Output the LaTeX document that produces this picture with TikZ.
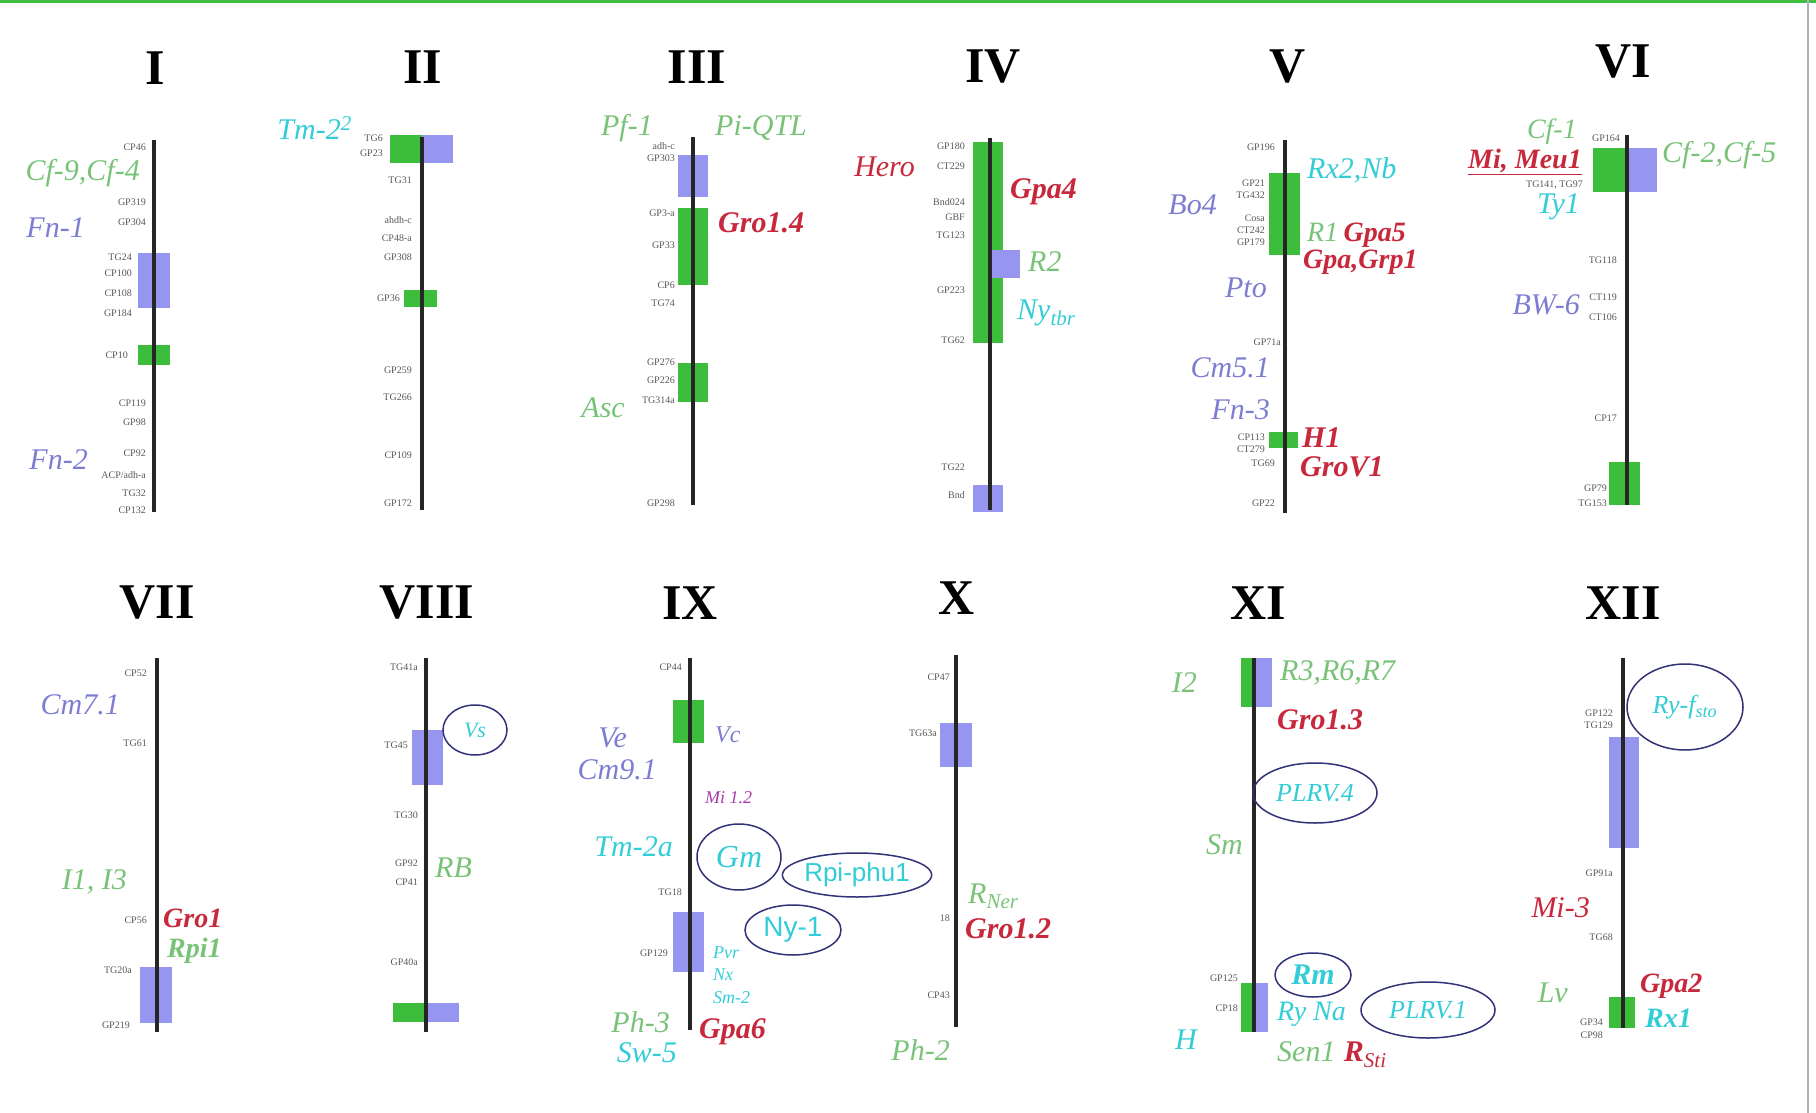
\documentclass[tikz,border=0pt]{standalone}
\usepackage{fontspec}
\setmainfont{Liberation Serif}
\newfontfamily\sansf{Liberation Sans}
\usetikzlibrary{shapes.geometric}
\definecolor{lg}{RGB}{120,195,120}
\definecolor{lb}{RGB}{125,125,210}
\definecolor{cy}{RGB}{50,205,215}
\definecolor{rd}{RGB}{200,40,60}
\definecolor{mg}{RGB}{170,60,170}
\definecolor{gbox}{RGB}{60,190,60}
\definecolor{bbox}{RGB}{150,150,240}
\definecolor{ell}{RGB}{50,50,120}
\begin{document}
\begin{tikzpicture}[x=1pt,y=-1pt,
 ttl/.style={font=\fontsize{50}{50}\selectfont\bfseries, inner sep=0},
 mk/.style={font=\fontsize{10}{10}\selectfont, text=black!65, anchor=east, inner sep=0},
 lab/.style={font=\fontsize{30}{30}\selectfont\itshape, inner sep=0},
 gG/.style={lab, text=lg},
 gB/.style={lab, text=lb},
 gC/.style={lab, text=cy},
 gR/.style={font=\fontsize{30}{30}\selectfont\bfseries\itshape, inner sep=0, text=rd},
 sm/.style={font=\fontsize{18}{18}\selectfont\itshape, inner sep=0},
 gbx/.style={fill=gbox, draw=none},
 bbx/.style={fill=bbox, draw=none},
 chr/.style={line width=4pt, draw=black!85},
 ov/.style={draw=ell, line width=1.5pt, ellipse, inner sep=0, text=cy}
]
\useasboundingbox (0,0) rectangle (1816,1113);
\fill[white] (0,0) rectangle (1816,1113);
\draw[green!50!gray, line width=3pt] (0,1.5) -- (1816,1.5);
\draw[gray!60, line width=2pt] (1808,0) -- (1808,1113);

% ---------- titles
\node[ttl] (tI) at (155,68) {I};
\node[ttl] (tII) at (423,67) {II};
\node[ttl] (tIII) at (697,67) {III};
\node[ttl] (tIV) at (993,67) {IV};
\node[ttl] (tV) at (1288,67) {V};
\node[ttl] (tVI) at (1623,62) {VI};
\node[ttl] (tVII) at (157,603) {VII};
\node[ttl] (tVIII) at (427,603) {VIII};
\node[ttl] (tIX) at (690,603) {IX};
\node[ttl] (tX) at (957,598) {X};
\node[ttl] (tXI) at (1258,603) {XI};
\node[ttl] (tXII) at (1623,603) {XII};

% ---------- chromosome I
\fill[bbx] (138,253) rectangle (170,308);
\fill[gbx] (138,345) rectangle (170,365);
\draw[chr] (154,140) -- (154,512);
\node[mk] (m1a) at (146,147) {CP46};
\node[mk] (m1b) at (146,202) {GP319};
\node[mk] (m1c) at (146,222) {GP304};
\node[mk] (m1d) at (132,257) {TG24};
\node[mk] (m1e) at (132,273) {CP100};
\node[mk] (m1f) at (132,293) {CP108};
\node[mk] (m1g) at (132,313) {GP184};
\node[mk] (m1h) at (128,355) {CP10};
\node[mk] (m1i) at (146,403) {CP119};
\node[mk] (m1j) at (146,422) {GP98};
\node[mk] (m1k) at (146,453) {CP92};
\node[mk] (m1l) at (146,475) {ACP/adh-a};
\node[mk] (m1m) at (146,493) {TG32};
\node[mk] (m1n) at (146,510) {CP132};
\node[gG, anchor=east] (l1a) at (140,173) {Cf-9,Cf-4};
\node[gB, anchor=east] (l1b) at (85,228) {Fn-1};
\node[gB, anchor=east] (l1c) at (88,460) {Fn-2};

% ---------- chromosome II
\fill[gbx] (390,135) rectangle (422,163);
\fill[bbx] (422,135) rectangle (453,163);
\fill[gbx] (404,290) rectangle (437,307);
\draw[chr] (422,137) -- (422,510);
\node[mk] (m2a) at (383,138) {TG6};
\node[mk] (m2b) at (383,153) {GP23};
\node[mk] (m2c) at (412,180) {TG31};
\node[mk] (m2d) at (412,220) {ahdh-c};
\node[mk] (m2e) at (412,238) {CP48-a};
\node[mk] (m2f) at (412,257) {GP308};
\node[mk] (m2g) at (400,298) {GP36};
\node[mk] (m2h) at (412,370) {GP259};
\node[mk] (m2i) at (412,397) {TG266};
\node[mk] (m2j) at (412,455) {CP109};
\node[mk] (m2k) at (412,503) {GP172};
\node[gC, anchor=east] (l2a) at (352,128) {Tm-2\textsuperscript{2}};

% ---------- chromosome III
\fill[bbx] (678,155) rectangle (708,197);
\fill[gbx] (678,208) rectangle (708,285);
\fill[gbx] (678,363) rectangle (708,402);
\draw[chr] (693,137) -- (693,505);
\node[mk] (m3a) at (675,146) {adh-c};
\node[mk] (m3b) at (675,158) {GP303};
\node[mk] (m3c) at (675,213) {GP3-a};
\node[mk] (m3d) at (675,245) {GP33};
\node[mk] (m3e) at (675,285) {CP6};
\node[mk] (m3f) at (675,303) {TG74};
\node[mk] (m3g) at (675,362) {GP276};
\node[mk] (m3h) at (675,380) {GP226};
\node[mk] (m3i) at (675,400) {TG314a};
\node[mk] (m3j) at (675,503) {GP298};
\node[gG, anchor=east] (l3a) at (653,128) {Pf-1};
\node[gG, anchor=west] (l3b) at (715,128) {Pi-QTL};
\node[gR, anchor=west] (l3c) at (718,223) {Gro1.4};
\node[gG, anchor=east] (l3d) at (625,408) {Asc};

% ---------- chromosome IV
\fill[gbx] (973,142) rectangle (1003,343);
\fill[bbx] (990,250) rectangle (1020,278);
\fill[bbx] (973,485) rectangle (1003,512);
\draw[chr] (990,138) -- (990,510);
\node[mk] (m4a) at (965,146) {GP180};
\node[mk] (m4b) at (965,166) {CT229};
\node[mk] (m4c) at (965,202) {Bnd024};
\node[mk] (m4d) at (965,217) {GBF};
\node[mk] (m4e) at (965,235) {TG123};
\node[mk] (m4f) at (965,290) {GP223};
\node[mk] (m4g) at (965,340) {TG62};
\node[mk] (m4h) at (965,467) {TG22};
\node[mk] (m4i) at (965,495) {Bnd};
\node[gR, anchor=east, font=\fontsize{30}{30}\selectfont\itshape] (l4a) at (915,167) {Hero};
\node[gR, anchor=west] (l4b) at (1010,192) {Gpa4};
\node[gG, anchor=west] (l4c) at (1028,262) {R2};
\node[gC, anchor=west] (l4d) at (1017,313) {Ny\textsubscript{tbr}};

% ---------- chromosome V
\fill[gbx] (1269,173) rectangle (1300,255);
\fill[gbx] (1269,432) rectangle (1298,448);
\draw[chr] (1285,140) -- (1285,513);
\node[mk] (m5a) at (1275,147) {GP196};
\node[mk] (m5b) at (1265,183) {GP21};
\node[mk] (m5c) at (1265,195) {TG432};
\node[mk] (m5d) at (1265,218) {Cosa};
\node[mk] (m5e) at (1265,230) {CT242};
\node[mk] (m5f) at (1265,242) {GP179};
\node[mk] (m5g) at (1281,342) {GP71a};
\node[mk] (m5h) at (1265,437) {CP113};
\node[mk] (m5i) at (1265,449) {CT279};
\node[mk] (m5j) at (1275,463) {TG69};
\node[mk] (m5k) at (1275,503) {GP22};
\node[gC, anchor=west] (l5a) at (1307,170) {Rx2,Nb};
\node[gG, anchor=west, font=\fontsize{28}{28}\selectfont\itshape] (l5b) at (1307,232) {R1};
\node[gR, anchor=base west, font=\fontsize{28}{28}\selectfont\bfseries\itshape] (l5c) at ([xshift=5pt]l5b.base east) {Gpa5};
\node[gR, anchor=west, font=\fontsize{28}{28}\selectfont\bfseries\itshape] (l5d) at (1303,262) {Gpa,Grp1};
\node[gB, anchor=east] (l5e) at (1217,205) {Bo4};
\node[gB, anchor=east] (l5f) at (1267,288) {Pto};
\node[gB, anchor=east] (l5g) at (1270,368) {Cm5.1};
\node[gB, anchor=east] (l5h) at (1270,410) {Fn-3};
\node[gR, anchor=west] (l5i) at (1302,438) {H1};
\node[gR, anchor=west] (l5j) at (1300,467) {GroV1};

% ---------- chromosome VI
\fill[gbx] (1593,148) rectangle (1627,192);
\fill[bbx] (1627,148) rectangle (1657,192);
\fill[gbx] (1609,462) rectangle (1640,505);
\draw[chr] (1627,135) -- (1627,505);
\node[mk] (m6a) at (1620,138) {GP164};
\node[mk] (m6b) at (1583,185) {TG141, TG97};
\node[mk] (m6c) at (1617,260) {TG118};
\node[mk] (m6d) at (1617,297) {CT119};
\node[mk] (m6e) at (1617,317) {CT106};
\node[mk] (m6f) at (1617,418) {CP17};
\node[mk] (m6g) at (1607,488) {GP79};
\node[mk] (m6h) at (1607,503) {TG153};
\node[gG, anchor=east, font=\fontsize{28}{28}\selectfont\itshape] (l6a) at (1577,132) {Cf-1};
\node[gR, anchor=east, font=\fontsize{28}{28}\selectfont\bfseries\itshape] (l6b) at (1582,162) {\underline{Mi, Meu1}};
\node[gC, anchor=east] (l6c) at (1580,207) {Ty1};
\node[gG, anchor=west] (l6d) at (1662,155) {Cf-2,Cf-5};
\node[gB, anchor=east] (l6e) at (1580,305) {BW-6};

% ---------- chromosome VII
\fill[bbx] (140,967) rectangle (172,1023);
\draw[chr] (157,658) -- (157,1032);
\node[mk] (m7a) at (147,673) {CP52};
\node[mk] (m7b) at (147,743) {TG61};
\node[mk] (m7c) at (147,920) {CP56};
\node[mk] (m7d) at (132,970) {TG20a};
\node[mk] (m7e) at (130,1025) {GP219};
\node[gB, anchor=east] (l7a) at (120,705) {Cm7.1};
\node[gG, anchor=east] (l7b) at (127,882) {I1, I3};
\node[gR, anchor=west, font=\fontsize{28}{28}\selectfont\bfseries\itshape] (l7c) at (163,918) {Gro1};
\node[gR, anchor=west, text=lg, font=\fontsize{28}{28}\selectfont\bfseries\itshape] (l7d) at (167,951) {Rpi1};

% ---------- chromosome VIII
\fill[bbx] (412,730) rectangle (443,785);
\fill[gbx] (393,1003) rectangle (426,1022);
\fill[bbx] (426,1003) rectangle (459,1022);
\draw[chr] (426,658) -- (426,1032);
\node[mk] (m8a) at (418,667) {TG41a};
\node[mk] (m8b) at (408,745) {TG45};
\node[mk] (m8c) at (418,815) {TG30};
\node[mk] (m8d) at (418,863) {GP92};
\node[mk] (m8e) at (418,882) {CP41};
\node[mk] (m8f) at (418,962) {GP40a};
\node[ov, minimum width=64pt, minimum height=50pt, font=\fontsize{22}{22}\selectfont\itshape] (e8) at (475,730) {Vs};
\node[gG, anchor=west] (l8a) at (435,868) {RB};

% ---------- chromosome IX
\fill[gbx] (673,700) rectangle (704,743);
\fill[bbx] (673,912) rectangle (704,972);
\draw[chr] (690,658) -- (690,1030);
\node[mk] (m9a) at (682,667) {CP44};
\node[mk] (m9b) at (682,892) {TG18};
\node[mk] (m9c) at (668,953) {GP129};
\node[gB, anchor=west, font=\fontsize{24}{24}\selectfont\itshape] (l9a) at (715,735) {Vc};
\node[gB, anchor=east] (l9b) at (627,738) {Ve};
\node[gB, anchor=east] (l9c) at (657,770) {Cm9.1};
\node[sm, anchor=west, text=mg] (l9d) at (705,798) {Mi 1.2};
\node[gC, anchor=east] (l9e) at (673,847) {Tm-2a};
\node[ov, minimum width=84pt, minimum height=66pt, font=\fontsize{32}{32}\selectfont\itshape] (e9a) at (739,857) {Gm};
\node[ov, minimum width=144pt, minimum height=44pt, font=\fontsize{26}{26}\selectfont\sansf] (e9b) at (857,875) {Rpi-phu1};
\node[ov, minimum width=96pt, minimum height=50pt, font=\fontsize{28}{28}\selectfont\sansf] (e9c) at (793,930) {Ny-1};
\node[sm, anchor=west, text=cy] (l9f) at (713,953) {Pvr};
\node[sm, anchor=west, text=cy] (l9g) at (713,975) {Nx};
\node[sm, anchor=west, text=cy] (l9h) at (713,998) {Sm-2};
\node[gG, anchor=east] (l9i) at (670,1022) {Ph-3};
\node[gC, anchor=east] (l9j) at (677,1053) {Sw-5};
\node[gR, anchor=west] (l9k) at (699,1032) {Gpa6};

% ---------- chromosome X
\fill[bbx] (940,723) rectangle (972,767);
\draw[chr] (956,655) -- (956,1027);
\node[mk] (m10a) at (950,677) {CP47};
\node[mk] (m10b) at (937,733) {TG63a};
\node[mk] (m10c) at (950,918) {18};
\node[mk] (m10d) at (950,995) {CP43};
\node[gG, anchor=west] (l10a) at (968,896) {R\textsubscript{Ner}};
\node[gR, anchor=west] (l10b) at (965,929) {Gro1.2};
\node[gG, anchor=east] (l10c) at (950,1050) {Ph-2};

% ---------- chromosome XI
\fill[gbx] (1241,658) rectangle (1255,707);
\fill[bbx] (1255,658) rectangle (1272,707);
\fill[gbx] (1241,983) rectangle (1256,1032);
\fill[bbx] (1256,983) rectangle (1268,1032);
\draw[chr] (1254,658) -- (1254,1032);
\node[mk] (m11a) at (1238,978) {GP125};
\node[mk] (m11b) at (1238,1008) {CP18};
\node[gG, anchor=west] (l11a) at (1280,673) {R3,R6,R7};
\node[gG, anchor=east] (l11b) at (1197,683) {I2};
\node[gR, anchor=west] (l11c) at (1277,720) {Gro1.3};
\node[ov, minimum width=124pt, minimum height=60pt, font=\fontsize{26}{26}\selectfont\itshape] (e11a) at (1315,793) {PLRV.4};
\node[gG, anchor=east] (l11d) at (1243,845) {Sm};
\node[ov, minimum width=76pt, minimum height=44pt, font=\fontsize{30}{30}\selectfont\itshape\bfseries] (e11b) at (1313,975) {Rm};
\node[gC, anchor=west, font=\fontsize{28}{28}\selectfont\itshape] (l11e) at (1277,1014) {Ry Na};
\node[ov, minimum width=134pt, minimum height=56pt, font=\fontsize{26}{26}\selectfont\itshape] (e11c) at (1428,1010) {PLRV.1};
\node[gC, anchor=east] (l11f) at (1197,1040) {H};
\node[gG, anchor=west] (l11g) at (1277,1052) {Sen1};
\node[gR, anchor=base west] (l11h) at ([xshift=8pt]l11g.base east) {R\textsubscript{\mdseries Sti}};

% ---------- chromosome XII
\fill[bbx] (1609,737) rectangle (1639,848);
\fill[gbx] (1609,997) rectangle (1635,1028);
\draw[chr] (1623,658) -- (1623,1028);
\node[mk] (m12a) at (1613,713) {GP122};
\node[mk] (m12b) at (1613,725) {TG129};
\node[mk] (m12c) at (1613,873) {GP91a};
\node[mk] (m12d) at (1613,937) {TG68};
\node[mk] (m12e) at (1603,1022) {GP34};
\node[mk] (m12f) at (1603,1035) {CP98};
\node[ov, minimum width=116pt, minimum height=86pt, font=\fontsize{26}{26}\selectfont\itshape] (e12) at (1685,707) {Ry-f\textsubscript{sto}};
\node[gR, anchor=east, font=\fontsize{30}{30}\selectfont\itshape] (l12a) at (1590,908) {Mi-3};
\node[gG, anchor=east] (l12b) at (1568,993) {Lv};
\node[gR, anchor=west, font=\fontsize{28}{28}\selectfont\bfseries\itshape] (l12c) at (1640,986) {Gpa2};
\node[gR, anchor=west, text=cy, font=\fontsize{28}{28}\selectfont\bfseries\itshape] (l12d) at (1645,1018) {Rx1};
\end{tikzpicture}
\end{document}
